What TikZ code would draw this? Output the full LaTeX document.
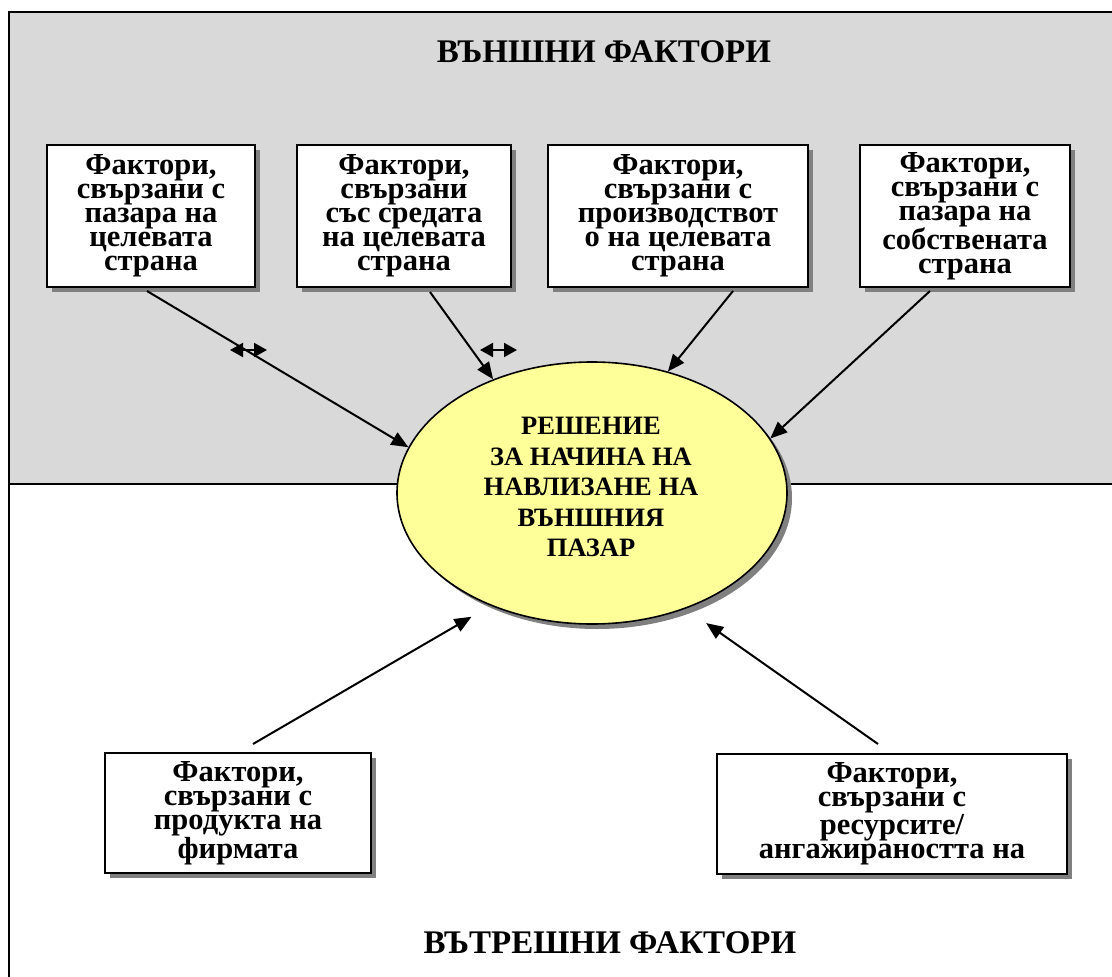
\documentclass[tikz,border=0pt]{standalone}
\usepackage{fontspec}
\setmainfont{Liberation Serif}
\usetikzlibrary{arrows.meta,shapes.geometric,shadows,calc}

\definecolor{panelgray}{HTML}{D9D9D9}
\definecolor{decyellow}{HTML}{FFFF99}
\definecolor{shadowgray}{HTML}{808080}

\begin{document}
\begin{tikzpicture}[x=1pt,y=-1pt,
  boxshadow/.style={drop shadow={shadow xshift=5pt,shadow yshift=-5pt,fill=shadowgray,opacity=1}},
  factor/.style={draw,line width=2pt,fill=white,align=center,inner sep=0pt,
    font=\bfseries\fontsize{30.5}{24}\selectfont,boxshadow},
  decision/.style={ellipse,draw,line width=1.6pt,fill=decyellow,inner sep=0pt,
    minimum width=390pt,minimum height=262pt,boxshadow},
  title/.style={font=\bfseries\fontsize{33}{36}\selectfont,inner sep=0pt},
  arr/.style={line width=2pt,-{Triangle[length=17pt,width=14pt]}},
  twoway/.style={line width=2pt,{Triangle[length=13pt,width=14pt]}-{Triangle[length=13pt,width=14pt]}}
]
\useasboundingbox (0,0) rectangle (1112,977);

% background panels and frame
\fill[panelgray] (9,12) rectangle (1112,484);
\draw[line width=2.5pt] (9,977) -- (9,12) -- (1112,12);
\draw[line width=2.5pt] (9,484) -- (1112,484);

% section titles
\node[title] (ext) at (604,52) {ВЪНШНИ ФАКТОРИ};
\node[title] (int) at (610,943) {ВЪТРЕШНИ ФАКТОРИ};

% external factors
\node[factor,minimum width=208pt,minimum height=142pt] (f1) at (151,216)
  {Фактори,\\свързани с\\пазара на\\целевата\\страна};
\node[factor,minimum width=214pt,minimum height=142pt] (f2) at (404,216)
  {Фактори,\\свързани\\със средата\\на целевата\\страна};
\node[factor,minimum width=260pt,minimum height=142pt] (f3) at (678,216)
  {Фактори,\\свързани с\\производствот\\о на целевата\\страна};
\node[factor,minimum width=210pt,minimum height=142pt] (f4) at (965,216)
  {Фактори,\\свързани с\\пазара на\\собствената\\страна};

% internal factors
\node[factor,minimum width=266pt,minimum height=120pt] (f5) at (238,813)
  {Фактори,\\свързани с\\продукта на\\фирмата};
\node[factor,minimum width=350pt,minimum height=120pt] (f6) at (892,814)
  {Фактори,\\свързани с\\ресурсите/\\ангажираността на};

% central decision
\node[decision] (dec) at (592,493) {};
\node[font=\bfseries\fontsize{26.5}{30.5}\selectfont,align=center,inner sep=0pt] (dect) at (591,487)
  {РЕШЕНИЕ\\ЗА НАЧИНА НА\\НАВЛИЗАНЕ НА\\ВЪНШНИЯ\\ПАЗАР};

% connectors
\draw[arr] ($(f1.south)+(-4,3)$) -- (dec.166.9);
\draw[arr] ($(f2.south)+(26,4)$) -- (dec.131.5);
\draw[arr] ($(f3.south)+(55,3)$) -- (dec.58);
\draw[arr] ($(f4.south)+(-35,3)$) -- (dec.17);
\draw[arr,shorten >=22pt] ($(f5.north)+(15,-8)$) -- (dec.228.5);
\draw[arr,shorten >=25pt] ($(f6.north)+(-14,-9)$) -- (dec.309.6);

% small two-way markers
\coordinate (m1a) at (230,350);
\coordinate (m1b) at (267,350);
\coordinate (m2a) at (480,350);
\coordinate (m2b) at (517,350);
\draw[twoway] (m1a) -- (m1b);
\draw[twoway] (m2a) -- (m2b);
\end{tikzpicture}
\end{document}
